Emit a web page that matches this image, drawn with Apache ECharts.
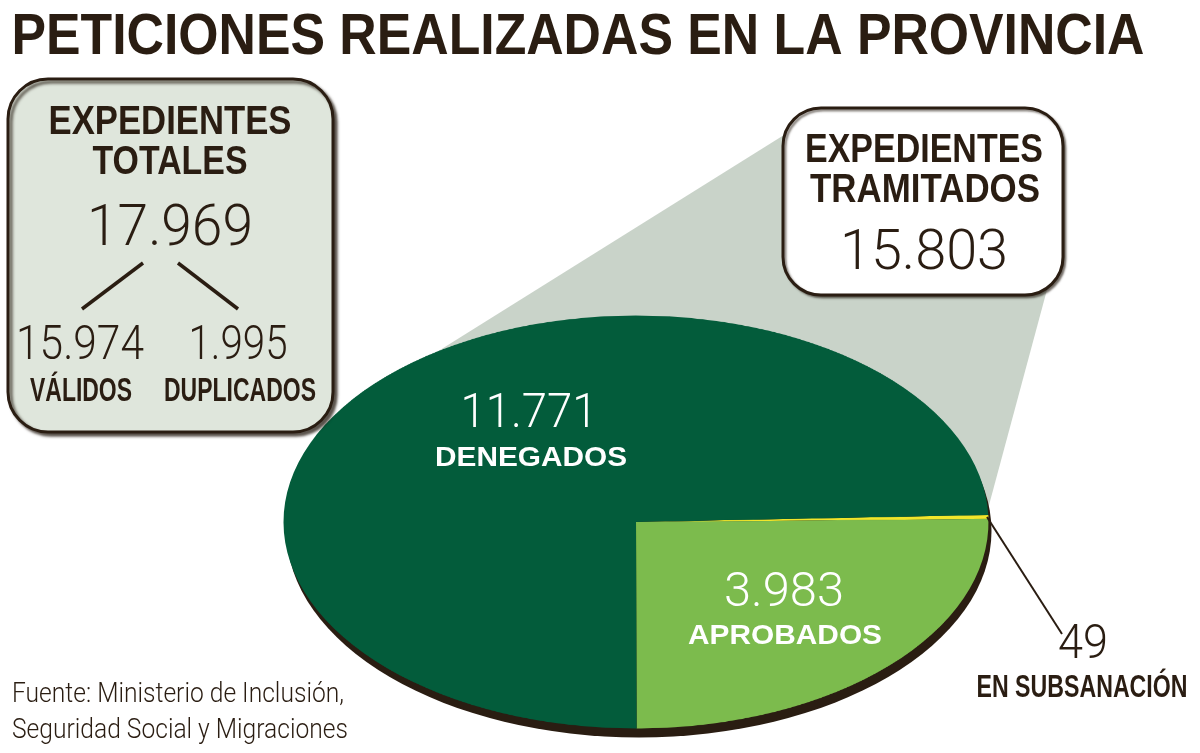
<!DOCTYPE html>
<html><head><meta charset="utf-8">
<script src="https://cdn.jsdelivr.net/npm/echarts@6/dist/echarts.min.js"></script>
<style>
html,body{margin:0;padding:0;background:#fff;}
#wrap{position:relative;width:1200px;height:753px;overflow:hidden;background:#fff;}
#bg,#fg{position:absolute;left:0;top:0;width:1200px;height:753px;}
#pie{position:absolute;left:256px;top:142px;width:760px;height:760px;transform:scaleY(0.5858);transform-origin:50% 50%;}
</style></head>
<body><div id="wrap"><div id="bg"></div><div id="pie"></div><div id="fg"></div></div>
<script>
// ---- data ----
const title = 'PETICIONES REALIZADAS EN LA PROVINCIA';
const totalLabels = ['EXPEDIENTES', 'TOTALES'];
const totalValue = [17969];
const splitNames = ['VÁLIDOS', 'DUPLICADOS'];
const splitValues = [15974, 1995];
const processedLabels = ['EXPEDIENTES', 'TRAMITADOS'];
const processedValue = [15803];
const pieNames = ['EN SUBSANACIÓN', 'APROBADOS', 'DENEGADOS'];
const pieValues = [49, 3983, 11771];
const sourceLines = ['Fuente: Ministerio de Inclusión,', 'Seguridad Social y Migraciones'];

// ---- styles ----
const ink = '#2a1d12';
const boxFill = '#dfe6dc';
const calloutFill = '#c9d3c9';
const pieColors = ['#f1e62b', '#7cbb4d', '#035c3b'];
const BOLD = 'Liberation Sans';
const LIGHT = 'Roboto';

function fmt(n) { return String(n).replace(/\B(?=(\d{3})+(?!\d))/g, '.'); }

const mctx = document.createElement('canvas').getContext('2d');
function measure(str, size, weight, family) {
  mctx.font = weight + ' ' + size + 'px "' + family + '"';
  return mctx.measureText(str).width;
}
function fitText(str, x, y, width, size, weight, family, color, align, sx) {
  const font = weight + ' ' + size + 'px "' + family + '"';
  const scaleX = sx || (width / measure(str, size, weight, family));
  return {
    type: 'text', x: x, y: y, scaleX: scaleX, z: 10, silent: true,
    style: { text: str, x: 0, y: 0, font: font, fill: color,
      textAlign: align || 'center', textVerticalAlign: 'middle' }
  };
}

// ---- background layer: callout wedge + pie rim ----
const bg = echarts.init(document.getElementById('bg'), null, { renderer: 'canvas' });
bg.setOption({
  backgroundColor: '#ffffff',
  animation: false,
  graphic: { elements: [
    { type: 'polygon', silent: true, z: 1,
      shape: { points: [[800, 125], [1055, 260], [985, 520], [636, 522], [400, 375]] },
      style: { fill: calloutFill } },
    { type: 'circle', silent: true, z: 2, x: 639, y: 531, scaleY: 0.5858,
      shape: { cx: 0, cy: 0, r: 352.5 }, style: { fill: ink } }
  ] }
});

// ---- pie layer ----
const pie = echarts.init(document.getElementById('pie'), null, { renderer: 'canvas' });
pie.setOption({
  animation: false,
  series: [{
    type: 'pie', center: ['50%', '50%'], radius: [0, 352.5],
    startAngle: 1.95, clockwise: true, silent: true,
    label: { show: false }, labelLine: { show: false },
    emphasis: { disabled: true },
    data: pieNames.map((n, i) => ({ name: n, value: pieValues[i], itemStyle: { color: pieColors[i] } }))
  }]
});

// ---- foreground layer: boxes & texts ----
const srcSize = 27;
const srcScale = 336 / measure(sourceLines[1], srcSize, 300, LIGHT);
const fg = echarts.init(document.getElementById('fg'), null, { renderer: 'canvas' });
fg.setOption({
  animation: false,
  graphic: { elements: [
    fitText(title, 578, 38, 1133, 57, 'bold', BOLD, ink),
    // left box
    { type: 'rect', silent: true, z: 5, shape: { x: 8, y: 79, width: 325, height: 353, r: 40 },
      style: { fill: boxFill, stroke: ink, lineWidth: 3, shadowBlur: 3, shadowOffsetX: 3, shadowOffsetY: 3, shadowColor: 'rgba(30,20,10,0.7)' } },
    fitText(totalLabels[0], 170, 123, 243, 40, 'bold', BOLD, ink),
    fitText(totalLabels[1], 170, 163, 155, 40, 'bold', BOLD, ink),
    fitText(fmt(totalValue[0]), 170, 231, 166, 57, 300, LIGHT, ink),
    { type: 'line', silent: true, z: 6, shape: { x1: 143, y1: 263, x2: 82, y2: 309 }, style: { stroke: ink, lineWidth: 3.5 } },
    { type: 'line', silent: true, z: 6, shape: { x1: 178, y1: 263, x2: 238, y2: 309 }, style: { stroke: ink, lineWidth: 3.5 } },
    fitText(fmt(splitValues[0]), 80, 347, 128, 49, 300, LIGHT, ink),
    fitText(fmt(splitValues[1]), 238, 347, 99, 49, 300, LIGHT, ink),
    fitText(splitNames[0], 81, 392, 102, 33, 'bold', BOLD, ink),
    fitText(splitNames[1], 240, 392, 152, 33, 'bold', BOLD, ink),
    // right box
    { type: 'rect', silent: true, z: 5, shape: { x: 783, y: 108, width: 280, height: 187, r: 38 },
      style: { fill: '#ffffff', stroke: ink, lineWidth: 3, shadowBlur: 2, shadowOffsetX: 2, shadowOffsetY: 2, shadowColor: 'rgba(30,20,10,0.5)' } },
    fitText(processedLabels[0], 924, 151, 238, 40, 'bold', BOLD, ink),
    fitText(processedLabels[1], 925, 191, 230, 40, 'bold', BOLD, ink),
    fitText(fmt(processedValue[0]), 924, 255, 168, 56, 300, LIGHT, ink),
    // pie labels
    fitText(fmt(pieValues[2]), 529, 415, 137, 49, 300, LIGHT, '#ffffff'),
    fitText(pieNames[2], 531, 458, 192, 28, 'bold', BOLD, '#ffffff'),
    fitText(fmt(pieValues[1]), 784, 594, 120, 48, 300, LIGHT, '#ffffff'),
    fitText(pieNames[1], 785, 636, 194, 28, 'bold', BOLD, '#ffffff'),
    // small slice callout
    { type: 'line', silent: true, z: 6, shape: { x1: 987, y1: 517, x2: 1062, y2: 634 }, style: { stroke: ink, lineWidth: 2 } },
    fitText(fmt(pieValues[0]), 1083, 646, 50, 49, 300, LIGHT, ink),
    fitText(pieNames[0], 1082, 688, 211, 31, 'bold', BOLD, ink),
    // source
    fitText(sourceLines[0], 12, 695, 0, srcSize, 300, LIGHT, ink, 'left', srcScale),
    fitText(sourceLines[1], 12, 731, 0, srcSize, 300, LIGHT, ink, 'left', srcScale)
  ] }
});
</script>
</body></html>
